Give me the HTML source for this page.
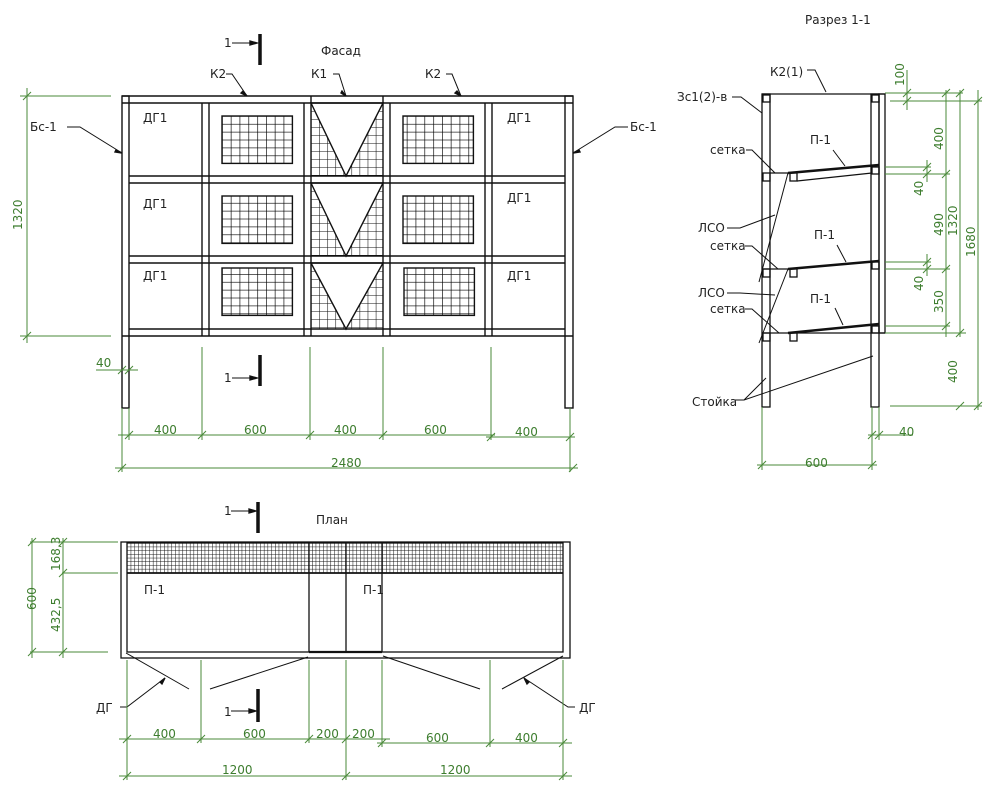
<!DOCTYPE html>
<html><head><meta charset="utf-8"><style>
html,body{margin:0;padding:0;background:#fff;}
svg{display:block;}
text{font-family:"DejaVu Sans","Liberation Sans",sans-serif;font-size:12px;fill:#222;}
.g text,text.g{fill:#3d7d2e;}
</style></head><body>
<svg width="1000" height="805" viewBox="0 0 1000 805" xmlns="http://www.w3.org/2000/svg">
<defs>
<pattern id="gr" x="222" y="116" width="8.8" height="7.9" patternUnits="userSpaceOnUse">
<path d="M0 0V7.9M0 0H8.8" stroke="#000" stroke-width="1.3" fill="none"/></pattern>
<pattern id="km" x="311" y="103" width="8.1" height="8" patternUnits="userSpaceOnUse">
<path d="M0 0V8M0 0H8.1" stroke="#111" stroke-width="1.1" fill="none"/></pattern>
<pattern id="pm" x="127" y="543" width="3.7" height="3.7" patternUnits="userSpaceOnUse">
<path d="M0 0V3.7M0 0H3.7" stroke="#111" stroke-width="1" fill="none"/></pattern>
</defs>

<!-- ============ FACADE ============ -->
<g stroke="#111" stroke-width="1.4" fill="none">
<rect x="311" y="103" width="72" height="73" fill="url(#km)" stroke="none"/>
<rect x="311" y="183" width="72" height="73" fill="url(#km)" stroke="none"/>
<rect x="311" y="263" width="72" height="66" fill="url(#km)" stroke="none"/>
<path d="M311 103L346 176L383 103Z" fill="#fff"/>
<path d="M311 183L346 256L383 183Z" fill="#fff"/>
<path d="M311 263L346 329L383 263Z" fill="#fff"/>
<rect x="222" y="116" width="70.4" height="47.4" fill="url(#gr)"/>
<rect x="222" y="196" width="70.4" height="47.4" fill="url(#gr)"/>
<rect x="222" y="268" width="70.4" height="47.4" fill="url(#gr)"/>
<rect x="403" y="116" width="70.4" height="47.4" fill="url(#gr)"/>
<rect x="403" y="196" width="70.4" height="47.4" fill="url(#gr)"/>
<rect x="404" y="268" width="70.4" height="47.4" fill="url(#gr)"/>
<line x1="122" y1="96" x2="573" y2="96"/>
<line x1="122" y1="103" x2="573" y2="103"/>
<line x1="129" y1="176" x2="565" y2="176"/>
<line x1="129" y1="183" x2="565" y2="183"/>
<line x1="129" y1="256" x2="565" y2="256"/>
<line x1="129" y1="263" x2="565" y2="263"/>
<line x1="129" y1="329" x2="565" y2="329"/>
<line x1="122" y1="336" x2="573" y2="336"/>
<rect x="122" y="96" width="7" height="312"/>
<rect x="565" y="96" width="8" height="312"/>
<line x1="202" y1="103" x2="202" y2="336"/><line x1="209" y1="103" x2="209" y2="336"/>
<line x1="304" y1="103" x2="304" y2="336"/><line x1="311" y1="96" x2="311" y2="336"/>
<line x1="383" y1="96" x2="383" y2="336"/><line x1="390" y1="103" x2="390" y2="336"/>
<line x1="485" y1="103" x2="485" y2="336"/><line x1="492" y1="103" x2="492" y2="336"/>
<path d="M226 74H232L247 96M333 74H339L346 96M446 74H452L461 96M67 127H80L122 153M628 127H615L573 153" stroke-width="1"/>
<path d="M243 91L247 96L241 93Z M342 91L346 96L341 93Z M457 91L461 96L455 93Z M116 150L122 153L115 152Z M579 150L573 153L580 152Z" fill="#111"/>
<path d="M232 43H253M232 378H253" stroke-width="1"/>
<path d="M260 34V65M260 355V386" stroke-width="3.5"/>
<path d="M250 41L257 43L250 45Z M250 376L257 378L250 380Z" fill="#111"/>
</g>
<text x="143" y="122">ДГ1</text><text x="143" y="208">ДГ1</text><text x="143" y="280">ДГ1</text>
<text x="507" y="122">ДГ1</text><text x="507" y="202">ДГ1</text><text x="507" y="280">ДГ1</text>
<text x="210" y="78">К2</text><text x="311" y="78">К1</text><text x="425" y="78">К2</text>
<text x="30" y="131">Бс-1</text><text x="630" y="131">Бс-1</text>
<text x="321" y="55">Фасад</text>
<text x="224" y="47">1</text><text x="224" y="382">1</text>

<g stroke="#4a8a3a" stroke-width="1" fill="none">
<path d="M20 96H111M20 336H111M27 88V343"/>
<path d="M23 100L31 92M23 340L31 332"/>
<path d="M96 370H138M118 374L126 366M125 374L133 366"/>
<path d="M202 347V440M310 347V440M383 347V440M491 347V440M129 408V440M570 408V472M122 408V472"/>
<path d="M118 435H495M486 437H575"/>
<path d="M125 439L133 431M198 439L206 431M306 439L314 431M379 439L387 431M487 441L495 433M566 441L574 433"/>
<path d="M115 468H578M118 472L126 464M569 472L577 464"/>
</g>
<g class="g">
<text transform="translate(22,230) rotate(-90)">1320</text>
<text x="96" y="367">40</text>
<text x="154" y="434">400</text><text x="244" y="434">600</text><text x="334" y="434">400</text>
<text x="424" y="434">600</text><text x="515" y="436">400</text>
<text x="331" y="467">2480</text>
</g>

<!-- ============ SECTION 1-1 ============ -->
<text x="805" y="24">Разрез 1-1</text>
<g stroke="#111" stroke-width="1.3" fill="none">
<rect x="762" y="94" width="8" height="313"/>
<rect x="871" y="94" width="8" height="313"/>
<rect x="879" y="94" width="6" height="239"/>
<line x1="762" y1="94" x2="885" y2="94"/>
<rect x="763" y="95" width="7" height="7"/><rect x="872" y="95" width="7" height="7"/>
<line x1="770" y1="173" x2="790" y2="173"/>
<line x1="797" y1="181" x2="872" y2="173"/>
<rect x="763" y="173" width="7" height="8"/><rect x="790" y="173" width="7" height="8"/><rect x="872" y="167" width="7" height="7"/>
<line x1="762" y1="269" x2="790" y2="269"/>
<rect x="763" y="269" width="7" height="8"/><rect x="790" y="269" width="7" height="8"/><rect x="872" y="262" width="7" height="7"/>
<line x1="762" y1="333" x2="885" y2="333"/>
<rect x="763" y="333" width="7" height="8"/><rect x="790" y="333" width="7" height="8"/><rect x="872" y="326" width="7" height="7"/>
<path d="M788 173L879 165M788 269L879 261M788 333L879 324" stroke-width="2.6"/>
<path d="M759 282L788 173M759 343L788 269" stroke-width="1"/>
<path d="M732 97H741L762 113M807 70H815L826 92M833 150L845 166M837 245L846 262M835 308L843 325M746 150H752L775 173M745 246H752L778 269M745 309H752L779 333M727 228H740L775 215M727 293H740L775 295M735 400H744L766 378M744 400L873 356" stroke-width="1"/>
</g>
<text x="677" y="101">Зс1(2)-в</text>
<text x="770" y="76">К2(1)</text>
<text x="810" y="144">П-1</text><text x="814" y="239">П-1</text><text x="810" y="303">П-1</text>
<text x="710" y="154">сетка</text><text x="710" y="250">сетка</text><text x="710" y="313">сетка</text>
<text x="698" y="232">ЛСО</text><text x="698" y="297">ЛСО</text>
<text x="692" y="406">Стойка</text>
<g stroke="#4a8a3a" stroke-width="1" fill="none">
<path d="M885 93H963M890 101H982M885 167H931M885 174H950M885 262H931M885 269H950M885 326H950M885 333H966M890 406H982"/>
<path d="M907 70V110M927 160V182M927 254V276M946 90V337M960 90V337M978 90V410"/>
<path d="M903 97L911 89M903 105L911 97M923 171L931 163M923 178L931 170M923 266L931 258M923 273L931 265M942 97L950 89M942 178L950 170M942 273L950 265M942 330L950 322M956 97L964 89M956 337L964 329M956 410L964 402M974 105L982 97M974 410L982 402"/>
<path d="M762 407V470M872 407V470M879 407V440M757 465H877M758 469L766 461M868 469L876 461M868 435H913M868 439L876 431M875 439L883 431"/>
</g>
<g class="g">
<text transform="translate(904,86) rotate(-90)">100</text>
<text transform="translate(943,150) rotate(-90)">400</text>
<text transform="translate(923,196) rotate(-90)">40</text>
<text transform="translate(943,236) rotate(-90)">490</text>
<text transform="translate(957,236) rotate(-90)">1320</text>
<text transform="translate(923,291) rotate(-90)">40</text>
<text transform="translate(943,313) rotate(-90)">350</text>
<text transform="translate(975,257) rotate(-90)">1680</text>
<text transform="translate(957,383) rotate(-90)">400</text>
<text x="899" y="436">40</text>
<text x="805" y="467">600</text>
</g>

<!-- ============ PLAN ============ -->
<text x="316" y="524">План</text>
<g stroke="#111" stroke-width="1.3" fill="none">
<rect x="127" y="543" width="436" height="30" fill="url(#pm)" stroke="none"/>
<rect x="121" y="542" width="449" height="116"/>
<rect x="127" y="543" width="436" height="109"/>
<line x1="127" y1="573" x2="563" y2="573" stroke-width="1.8"/>
<line x1="309" y1="543" x2="309" y2="652"/><line x1="346" y1="543" x2="346" y2="652"/><line x1="382" y1="543" x2="382" y2="652"/>
<line x1="309" y1="652" x2="382" y2="652" stroke-width="2.2"/>
<path d="M126 653L189 689M210 689L308 657M383 656L480 689M502 689L563 656" stroke-width="1"/>
<path d="M120 707H127L165 678M575 707H568L524 678" stroke-width="1"/>
<path d="M160 682L165 678L162 684Z M529 682L524 678L527 684Z" fill="#111"/>
<path d="M231 511H252M231 711H252" stroke-width="1"/>
<path d="M258 502V533M258 689V722" stroke-width="3.5"/>
<path d="M249 509L256 511L249 513Z M249 709L256 711L249 713Z" fill="#111"/>
</g>
<text x="144" y="594">П-1</text><text x="363" y="594">П-1</text>
<text x="96" y="712">ДГ</text><text x="579" y="712">ДГ</text>
<text x="224" y="515">1</text><text x="224" y="716">1</text>
<g stroke="#4a8a3a" stroke-width="1" fill="none">
<path d="M30 542H118M62 573H118M30 652H108M32 538V658M63 538V658"/>
<path d="M28 546L36 538M28 656L36 648M59 546L67 538M59 577L67 569M59 656L67 648"/>
<path d="M127 660V780M201 660V743M309 660V743M346 660V780M382 660V747M490 660V747M563 660V780"/>
<path d="M119 739H390M377 743H572"/>
<path d="M123 743L131 735M197 743L205 735M305 743L313 735M342 743L350 735M378 747L386 739M486 747L494 739M559 747L567 739"/>
<path d="M119 776H572M123 780L131 772M342 780L350 772M559 780L567 772"/>
</g>
<g class="g">
<text transform="translate(36,610) rotate(-90)">600</text>
<text transform="translate(60,571) rotate(-90)">168,3</text>
<text transform="translate(60,632) rotate(-90)">432,5</text>
<text x="153" y="738">400</text><text x="243" y="738">600</text><text x="316" y="738">200</text><text x="352" y="738">200</text>
<text x="426" y="742">600</text><text x="515" y="742">400</text>
<text x="222" y="774">1200</text><text x="440" y="774">1200</text>
</g>
</svg>
</body></html>
